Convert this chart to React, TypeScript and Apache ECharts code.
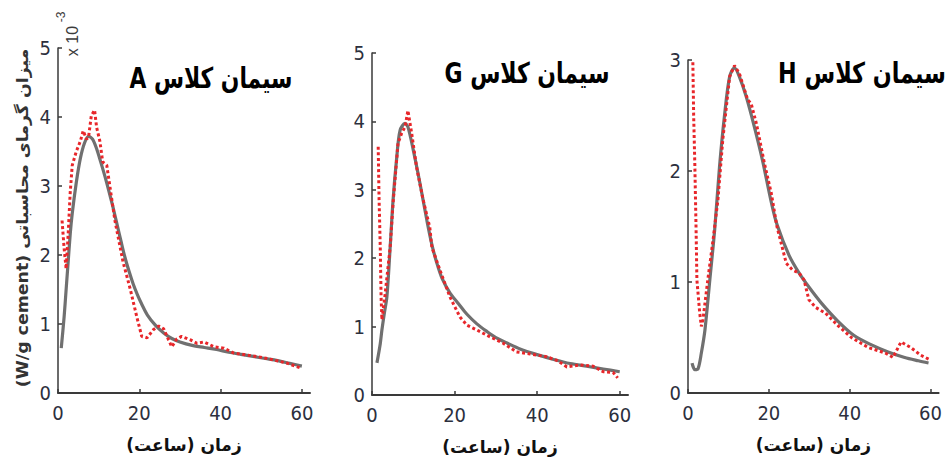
import React, { useEffect, useRef } from "react";
import * as echarts from "echarts";

// ---------- data ----------
const hourTicks = [0, 20, 40, 60];

const titles = ["سیمان کلاس A", "سیمان کلاس G", "سیمان کلاس H"];
const xAxisTitle = "زمان (ساعت)";
const yAxisTitle = "میزان گرمای محاسباتی (W/g cement)";
const yMaxes = [5, 5, 3];

// Panel A (class A cement)
const aModelHours = [0.8, 1.5, 2, 2.5, 3, 3.5, 4.5, 5.5, 6.5, 7.5, 8.5, 9.5, 10.5, 11.5, 12.5, 13.5, 14.5, 15.5, 16.5, 17.5, 18.5, 19.5, 20.5, 22, 24, 26, 28, 30, 33, 36, 39, 42, 45, 48, 51, 54, 57, 60];
const aModelValues = [0.65, 1.1, 1.5, 1.9, 2.3, 2.6, 3.05, 3.4, 3.62, 3.72, 3.68, 3.54, 3.35, 3.15, 2.93, 2.7, 2.45, 2.2, 1.96, 1.76, 1.58, 1.43, 1.3, 1.13, 0.98, 0.87, 0.79, 0.74, 0.69, 0.66, 0.63, 0.59, 0.56, 0.53, 0.5, 0.47, 0.43, 0.39];
const aMeasuredHours = [1, 1.5, 2, 2.5, 3, 3.5, 4.5, 5.5, 6.2, 7, 7.5, 8.2, 9, 9.5, 10.3, 11, 12, 13, 14, 15, 16, 17, 17.8, 18.6, 19.4, 20.6, 21.9, 23.5, 24.8, 26, 27.2, 28, 29.2, 30.4, 32.6, 34.2, 35.9, 38.4, 40.8, 43.2, 46.5, 49.8, 53, 56.5, 59.8];
const aMeasuredValues = [2.5, 2.1, 1.8, 2.3, 2.9, 3.3, 3.5, 3.65, 3.8, 3.68, 3.7, 4.02, 4.1, 3.85, 3.65, 3.35, 3.3, 2.9, 2.5, 2.2, 1.9, 1.68, 1.5, 1.3, 1.1, 0.82, 0.8, 0.92, 0.97, 0.93, 0.77, 0.67, 0.78, 0.82, 0.77, 0.72, 0.74, 0.67, 0.65, 0.58, 0.55, 0.52, 0.48, 0.43, 0.36];

// Panel G (class G cement)
const gModelHours = [1.2, 2, 2.4, 3, 3.6, 4.4, 5.1, 6, 6.8, 8, 8.7, 10, 11.6, 13.3, 14.5, 15.7, 17, 18.9, 21, 23, 25.4, 27.8, 30, 32.7, 36, 40, 44, 48, 52, 56, 60];
const gModelValues = [0.47, 0.75, 0.95, 1.2, 1.43, 2.16, 2.85, 3.48, 3.87, 3.97, 3.92, 3.58, 3.1, 2.55, 2.2, 1.93, 1.7, 1.49, 1.33, 1.18, 1.04, 0.93, 0.84, 0.76, 0.67, 0.59, 0.52, 0.46, 0.42, 0.38, 0.34];
const gMeasuredHours = [1.5, 1.7, 2, 2.2, 2.4, 3.1, 4.4, 5.1, 6.3, 7.2, 8, 8.7, 9.6, 10.8, 12.4, 14, 14.5, 16.5, 18.9, 21.3, 23, 25.4, 28.6, 31.7, 35, 38.3, 42.3, 45, 47.2, 50.4, 53.6, 56, 58.4, 59.5];
const gMeasuredValues = [3.63, 2.9, 2.16, 1.43, 1.1, 1.43, 2.16, 2.8, 3.68, 3.83, 3.92, 4.16, 3.83, 3.33, 2.85, 2.45, 2.16, 1.82, 1.43, 1.14, 1.02, 0.95, 0.85, 0.76, 0.63, 0.6, 0.56, 0.5, 0.41, 0.44, 0.42, 0.34, 0.33, 0.25];

// Panel H (class H cement)
const hModelHours = [1, 1.7, 2.5, 3.3, 4.2, 5.4, 6.6, 7.8, 9, 10.3, 11.5, 12.7, 14.4, 16.4, 18.4, 20.6, 22, 25, 27.5, 30, 33, 37, 41, 45, 49.5, 53.6, 57, 59.5];
const hModelValues = [0.27, 0.21, 0.22, 0.36, 0.57, 1.02, 1.47, 2.04, 2.49, 2.85, 2.93, 2.85, 2.67, 2.4, 2.1, 1.72, 1.52, 1.24, 1.08, 0.95, 0.81, 0.65, 0.52, 0.44, 0.37, 0.32, 0.29, 0.27];
const hMeasuredHours = [1.2, 1.4, 1.7, 2.0, 2.2, 2.9, 3.3, 3.7, 4.9, 6.2, 7.4, 8.6, 10.3, 11.5, 12.7, 14, 14.8, 15.6, 16.9, 18.9, 20.6, 22, 24.3, 25.8, 27.5, 28.7, 29.9, 31.6, 34, 37.3, 40.4, 44.6, 48.8, 50.7, 52.7, 55.1, 57.6, 59.8];
const hMeasuredValues = [2.98, 2.5, 2.04, 1.47, 1.02, 0.72, 0.6, 0.66, 1.02, 1.38, 1.74, 2.28, 2.85, 2.95, 2.88, 2.73, 2.64, 2.61, 2.43, 2.07, 1.8, 1.5, 1.17, 1.11, 1.08, 1.02, 0.84, 0.77, 0.72, 0.6, 0.5, 0.41, 0.36, 0.32, 0.46, 0.41, 0.34, 0.3];

// ---------- helpers ----------
const RLE = "\u202B";
const PDF = "\u202C";
const rtl = (s: string) => RLE + s + PDF;
const zip = (h: number[], v: number[]) => h.map((x, i) => [x, v[i]]);

function measure(text: string, font: string): number {
  const ctx = document.createElement("canvas").getContext("2d");
  if (!ctx) return 100;
  ctx.font = font;
  return ctx.measureText(text).width || 100;
}

const AXIS_COLOR = "#3a3a3a";
const LABEL_COLOR = "#2c2f3d";
const NUM_FONT = "'Liberation Sans Narrow', 'DejaVu Sans Condensed', 'Arial Narrow', sans-serif";
const FA_FONT = "'DejaVu Sans', 'Noto Sans', sans-serif";

const grids = [
  { left: 58, top: 48, width: 252, height: 345 },
  { left: 372, top: 53, width: 256, height: 342 },
  { left: 688, top: 60, width: 253, height: 333 },
];

export default function App() {
  const ref = useRef<HTMLDivElement>(null);

  useEffect(() => {
    if (!ref.current) return;
    const chart = echarts.init(ref.current, undefined, { renderer: "svg" });

    const models = [zip(aModelHours, aModelValues), zip(gModelHours, gModelValues), zip(hModelHours, hModelValues)];
    const measured = [zip(aMeasuredHours, aMeasuredValues), zip(gMeasuredHours, gMeasuredValues), zip(hMeasuredHours, hMeasuredValues)];

    const titleFont = `bold 26px ${FA_FONT}`;
    const titlePos = [
      { cx: 211, cy: 78, w: 163 },
      { cx: 527, cy: 73, w: 165 },
      { cx: 862, cy: 73, w: 168 },
    ];
    const titleGraphics = titles.map((t, i) => {
      const w = measure(rtl(t), titleFont);
      return {
        type: "text",
        x: titlePos[i].cx,
        y: titlePos[i].cy,
        scaleX: titlePos[i].w / w,
        scaleY: 1.1,
        style: {
          text: rtl(t),
          fontSize: 26,
          fontWeight: "bold",
          fontFamily: FA_FONT,
          fill: "#000",
          align: "center",
          verticalAlign: "middle",
          textAlign: "center",
          textVerticalAlign: "middle",
        },
      };
    });

    const yFont = `bold 16px ${FA_FONT}`;
    const yw = measure(rtl(yAxisTitle), yFont);

    const option: any = {
      animation: false,
      backgroundColor: "#fff",
      grid: grids.map((g) => ({ ...g, containLabel: false })),
      xAxis: grids.map((_, i) => ({
        gridIndex: i,
        type: "value",
        min: 0,
        max: 62,
        axisLine: { show: true, onZero: false, lineStyle: { color: AXIS_COLOR, width: 2 } },
        axisTick: { show: true, inside: true, length: 4, customValues: hourTicks, lineStyle: { color: AXIS_COLOR, width: 1.5 } },
        axisLabel: { customValues: hourTicks, fontSize: 20, color: LABEL_COLOR, fontFamily: NUM_FONT, margin: 10 },
        splitLine: { show: false },
        name: rtl(xAxisTitle),
        nameLocation: "middle",
        nameGap: 43,
        nameTextStyle: { fontSize: 17, fontWeight: "bold", color: "#111", fontFamily: FA_FONT },
      })),
      yAxis: grids.map((_, i) => ({
        gridIndex: i,
        type: "value",
        min: 0,
        max: yMaxes[i],
        interval: 1,
        axisLine: { show: true, onZero: false, lineStyle: { color: AXIS_COLOR, width: 1.5 } },
        axisTick: { show: true, inside: true, length: 4, lineStyle: { color: AXIS_COLOR, width: 1.5 } },
        axisLabel: { fontSize: 20, color: LABEL_COLOR, fontFamily: NUM_FONT, margin: 7 },
        splitLine: { show: false },
      })),
      series: [
        ...models.map((d, i) => ({
          type: "line",
          name: "model" + i,
          xAxisIndex: i,
          yAxisIndex: i,
          data: d,
          showSymbol: false,
          smooth: 0.3,
          lineStyle: { color: "#707070", width: 3.2 },
          z: 2,
        })),
        ...measured.map((d, i) => ({
          type: "line",
          name: "measured" + i,
          xAxisIndex: i,
          yAxisIndex: i,
          data: d,
          showSymbol: false,
          lineStyle: { color: "#e8262a", width: 3, type: [3, 2.6] },
          z: 3,
        })),
      ],
      graphic: [
        ...titleGraphics,
        {
          type: "text",
          x: 22,
          y: 218,
          rotation: Math.PI / 2,
          scaleX: 339 / yw,
          style: {
            text: rtl(yAxisTitle),
            fontSize: 16,
            fontWeight: "bold",
            fontFamily: FA_FONT,
            fill: "#333",
            align: "center",
            verticalAlign: "middle",
            textAlign: "center",
            textVerticalAlign: "middle",
          },
        },
        {
          type: "text",
          x: 72,
          y: 41,
          rotation: Math.PI / 2,
          style: {
            text: "x 10",
            fontSize: 16,
            fontFamily: "'Liberation Sans', Arial, sans-serif",
            fill: "#3b3b3b",
            align: "center",
            verticalAlign: "middle",
            textAlign: "center",
            textVerticalAlign: "middle",
          },
        },
        {
          type: "text",
          x: 61,
          y: 17,
          rotation: Math.PI / 2,
          style: {
            text: "-3",
            fontSize: 12,
            fontFamily: "'Liberation Sans', Arial, sans-serif",
            fill: "#3b3b3b",
            align: "center",
            verticalAlign: "middle",
            textAlign: "center",
            textVerticalAlign: "middle",
          },
        },
      ],
    };

    chart.setOption(option);
    return () => chart.dispose();
  }, []);

  return (
    <div
      ref={ref}
      style={{ position: "fixed", left: 0, top: 0, width: 945, height: 460, background: "#fff" }}
    />
  );
}
